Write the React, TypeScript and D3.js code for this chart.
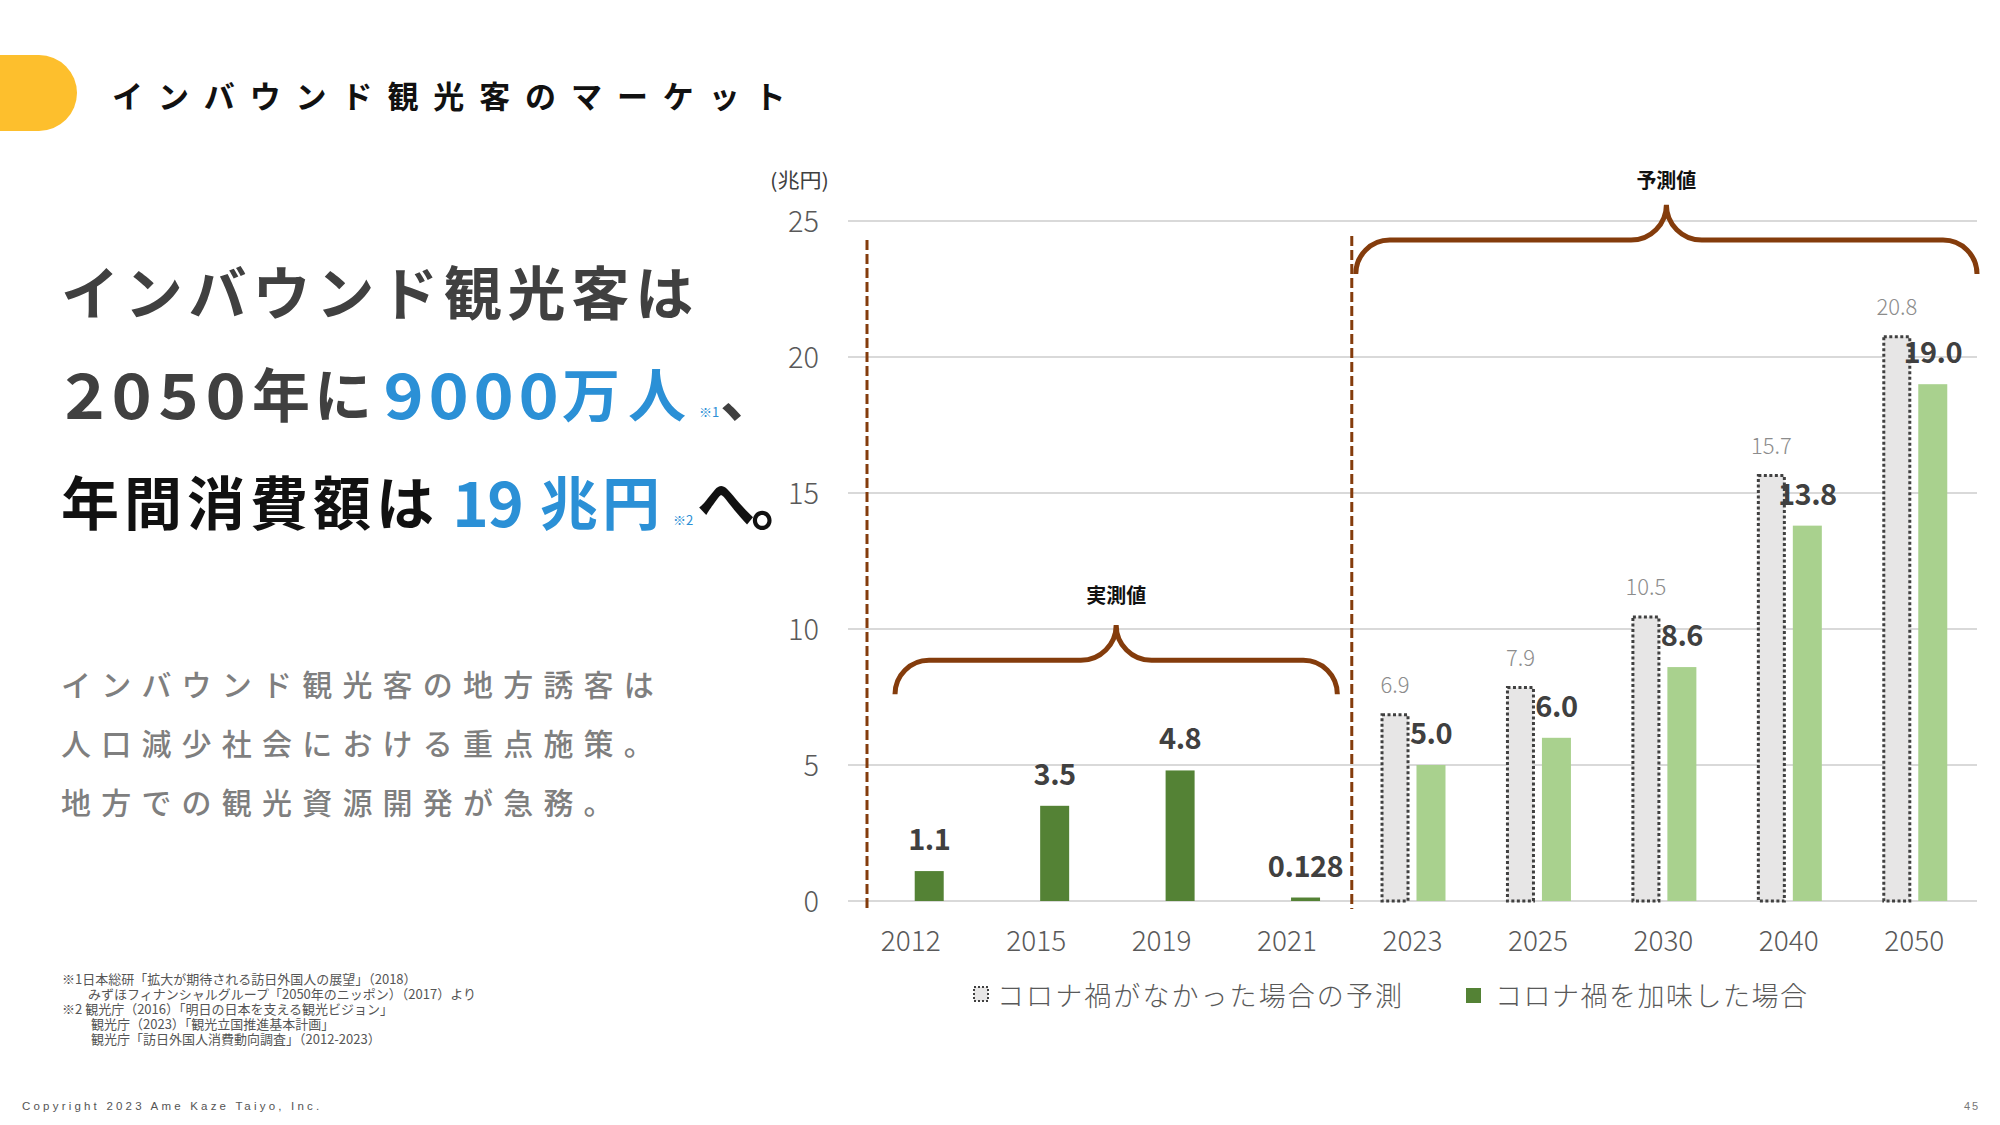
import * as d3 from "d3";

const years = ["2012", "2015", "2019", "2021", "2023", "2025", "2030", "2040", "2050"];
// コロナ禍がなかった場合の予測 (forecast only)
const noCovid = [null, null, null, null, 6.9, 7.9, 10.5, 15.7, 20.8];
const noCovidLabels = ["", "", "", "", "6.9", "7.9", "10.5", "15.7", "20.8"];
// コロナ禍を加味した場合 (actual 2012-2021, forecast after)
const withCovid = [1.1, 3.5, 4.8, 0.128, 5.0, 6.0, 8.6, 13.8, 19.0];
const withCovidLabels = ["1.1", "3.5", "4.8", "0.128", "5.0", "6.0", "8.6", "13.8", "19.0"];
const actualYears = ["2012", "2015", "2019", "2021"];
const yTicks = [0, 5, 10, 15, 20, 25];

const subLines = [
  "インバウンド観光客の地方誘客は",
  "人口減少社会における重点施策。",
  "地方での観光資源開発が急務。",
];
const footnotes = [
  { indent: 0, text: "※1日本総研「拡大が期待される訪日外国人の展望」（2018）" },
  { indent: 26, text: "みずほフィナンシャルグループ「2050年のニッポン）（2017）より" },
  { indent: 0, text: "※2 観光庁（2016）「明日の日本を支える観光ビジョン」" },
  { indent: 29, text: "観光庁（2023）「観光立国推進基本計画」" },
  { indent: 29, text: "観光庁「訪日外国人消費動向調査」（2012-2023）" },
];

const JP = "'Noto Sans CJK JP', 'Noto Sans', sans-serif";
const BLUE = "#2b90d6";
const BROWN = "#843c0c";
const DARK_GREEN = "#548235";
const LIGHT_GREEN = "#a9d18e";

function bracePath(x0: number, x1: number, yEnd: number, yH: number, yTip: number) {
  const r = yEnd - yH;
  const r2 = yH - yTip;
  const xm = (x0 + x1) / 2;
  return [
    `M${x0},${yEnd}`,
    `A${r},${r} 0 0 1 ${x0 + r},${yH}`,
    `L${xm - r2},${yH}`,
    `A${r2},${r2} 0 0 0 ${xm},${yTip}`,
    `A${r2},${r2} 0 0 0 ${xm + r2},${yH}`,
    `L${x1 - r},${yH}`,
    `A${r},${r} 0 0 1 ${x1},${yEnd}`,
  ].join(" ");
}

// wide geometric digits in the headline: each digit centred in its own cell
function Digits({ x, y, pitch, sx = 1.1, fill, children }: { x: number; y: number; pitch: number; sx?: number; fill: string; children: string }) {
  return (
    <g>
      {children.split("").map((ch, i) => (
        <text
          key={i}
          transform={`translate(${x + pitch * (i + 0.5)},${y}) scale(${sx},1)`}
          textAnchor="middle"
          dominantBaseline="central"
          fontSize={62}
          fill={fill}
        >
          {ch}
        </text>
      ))}
    </g>
  );
}

export default function App() {
  const x = d3.scaleBand().domain(years).range([848, 1977]);
  const bw = x.bandwidth();
  const inner = d3
    .scaleBand()
    .domain(["noCovid", "withCovid"])
    .range([bw * 0.245, bw * 0.763])
    .paddingInner(0.194);
  const y = d3.scaleLinear().domain([0, 25]).range([901, 221]);
  const ib = inner.bandwidth();

  const gx = (yr: string) => x(yr)! + inner("noCovid")!;
  const cx = (yr: string) => x(yr)! + inner("withCovid")!;

  const divider1 = x("2012")! + 19;
  const divider2 = x("2023")! + 2;

  return (
    <svg width={2000} height={1125} style={{ position: "absolute", left: 0, top: 0, background: "#fff" }}>
      <style>{`body{margin:0}`}</style>

      {/* header */}
      <rect x={-40} y={55} width={117} height={76} rx={38} fill="#fdbf2d" />
      <text x={112} y={94} dominantBaseline="central" fontFamily={JP} fontWeight={700} fontSize={31} letterSpacing={14.9} fill="#111">
        インバウンド観光客のマーケット
      </text>

      {/* headline */}
      <g fontFamily={JP} fontWeight={700} fontSize={58} dominantBaseline="central">
        <text x={61} y={290} fill="#404040" letterSpacing={5.8}>インバウンド観光客は</text>
        <Digits x={61} y={392} pitch={47} fill="#404040">2050</Digits>
        <text x={252} y={392} fill="#404040" letterSpacing={4}>年に</text>
        <Digits x={381} y={392} pitch={45} fill={BLUE}>9000</Digits>
        <text x={562} y={392} fill={BLUE} letterSpacing={8}>万人</text>
        <text x={699} y={411} fill={BLUE} fontSize={13} fontWeight={400}>※1</text>
        <text x={720} y={392} fill="#404040">、</text>
        <text x={61} y={500} fill="#111" letterSpacing={5}>年間消費額は</text>
        <Digits x={453} y={500} pitch={35} sx={1.0} fill={BLUE}>19</Digits>
        <text x={540} y={500} fill={BLUE} letterSpacing={4}>兆円</text>
        <text x={673} y={519} fill={BLUE} fontSize={13} fontWeight={400}>※2</text>
        <text x={697} y={500} fill="#111" letterSpacing={-4}>へ。</text>
      </g>

      {/* sub text */}
      <g fontFamily={JP} fontWeight={500} fontSize={30} fill="#7f7f7f" letterSpacing={10.2}>
        {subLines.map((s, i) => (
          <text key={i} x={61} y={683 + i * 59} dominantBaseline="central">{s}</text>
        ))}
      </g>

      {/* footnotes */}
      <g fontFamily={JP} fontSize={13} fill="#555">
        {footnotes.map((f, i) => (
          <text key={i} x={62 + f.indent} y={978 + i * 15} dominantBaseline="central">{f.text}</text>
        ))}
      </g>
      <text x={22} y={1106} dominantBaseline="central" fontFamily="'Liberation Sans', Arial, sans-serif" fontSize={11.5} letterSpacing={3.2} fill="#555">
        Copyright 2023 Ame Kaze Taiyo, Inc.
      </text>
      <text x={1964} y={1106} dominantBaseline="central" fontFamily="'Liberation Sans', Arial, sans-serif" fontSize={11} letterSpacing={2} fill="#777">
        45
      </text>

      {/* chart */}
      <text x={770} y={179} dominantBaseline="central" fontFamily={JP} fontSize={20} fill="#404040" textLength={59} lengthAdjust="spacingAndGlyphs">(兆円)</text>
      {yTicks.map((t) => (
        <g key={t}>
          <line x1={848} x2={1977} y1={y(t)} y2={y(t)} stroke="#d9d9d9" strokeWidth={2} />
          <text x={819} y={y(t) - 2} textAnchor="end" dominantBaseline="central" fontFamily={JP} fontWeight={300} fontSize={29} fill="#595959">
            {t}
          </text>
        </g>
      ))}
      {years.map((yr) => (
        <text key={yr} x={x(yr)! + bw / 2} y={939} textAnchor="middle" dominantBaseline="central" fontFamily={JP} fontWeight={300} fontSize={28} fill="#595959">
          {yr}
        </text>
      ))}

      {/* bars: no-covid forecast */}
      {years.map((yr, i) =>
        noCovid[i] == null ? null : (
          <g key={"g" + yr}>
            <rect
              x={gx(yr) + 1.5}
              y={y(noCovid[i]!) + 1.5}
              width={ib - 3}
              height={y(0) - y(noCovid[i]!) - 1.5}
              fill="#e7e6e6"
              stroke="#404040"
              strokeWidth={3}
              strokeDasharray="3 2.5"
            />
            <text x={gx(yr) + ib / 2} y={y(noCovid[i]!) - 30} textAnchor="middle" dominantBaseline="central" fontFamily={JP} fontWeight={300} fontSize={22} fill="#8c8c8c">
              {noCovidLabels[i]}
            </text>
          </g>
        )
      )}
      {/* bars: with covid */}
      {years.map((yr, i) => (
        <g key={"c" + yr}>
          <rect
            x={cx(yr)}
            y={y(withCovid[i])}
            width={ib}
            height={y(0) - y(withCovid[i])}
            fill={actualYears.includes(yr) ? DARK_GREEN : LIGHT_GREEN}
          />
          <text x={cx(yr) + ib / 2} y={y(withCovid[i]) - 34} textAnchor="middle" dominantBaseline="central" fontFamily={JP} fontWeight={700} fontSize={29} letterSpacing={-0.5} fill="#404040">
            {withCovidLabels[i]}
          </text>
        </g>
      ))}

      {/* dividers */}
      <line x1={divider1} x2={divider1} y1={y(24.3)} y2={y(0) + 8} stroke={BROWN} strokeWidth={3} strokeDasharray="10 4" />
      <line x1={divider2} x2={divider2} y1={y(24.45)} y2={y(0) + 8} stroke={BROWN} strokeWidth={3} strokeDasharray="10 4" />

      {/* braces */}
      <path d={bracePath(x("2012")! + 47, x("2021")! + 113, y(7.6), y(8.85), y(10.15))} fill="none" stroke={BROWN} strokeWidth={5} />
      <text x={x("2012")! + 47 + (x("2021")! + 113 - x("2012")! - 47) / 2} y={594} textAnchor="middle" dominantBaseline="central" fontFamily={JP} fontWeight={700} fontSize={20} fill="#111">
        実測値
      </text>
      <path d={bracePath(x("2023")! + 6, 1977, y(23.05), y(24.3), y(25.6))} fill="none" stroke={BROWN} strokeWidth={5} />
      <text x={(x("2023")! + 6 + 1977) / 2} y={179} textAnchor="middle" dominantBaseline="central" fontFamily={JP} fontWeight={700} fontSize={20} fill="#111">
        予測値
      </text>

      {/* legend */}
      <rect x={974} y={987} width={14} height={14} fill="#e7e6e6" stroke="#404040" strokeWidth={2} strokeDasharray="2 2" />
      <text x={997} y={994} dominantBaseline="central" fontFamily={JP} fontWeight={300} fontSize={27} fill="#595959" textLength={405} lengthAdjust="spacing">
        コロナ禍がなかった場合の予測
      </text>
      <rect x={1466} y={988} width={15} height={15} fill={DARK_GREEN} />
      <text x={1495} y={994} dominantBaseline="central" fontFamily={JP} fontWeight={300} fontSize={27} fill="#595959" textLength={312} lengthAdjust="spacing">
        コロナ禍を加味した場合
      </text>
    </svg>
  );
}
